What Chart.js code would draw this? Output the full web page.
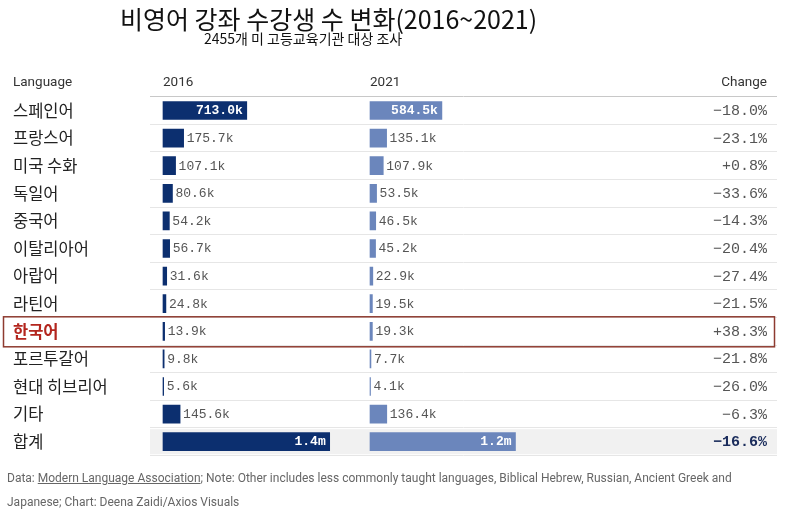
<!DOCTYPE html>
<html><head><meta charset="utf-8">
<script src="https://cdn.jsdelivr.net/npm/chart.js@4/dist/chart.umd.min.js"></script>
<style>
html,body{margin:0;padding:0;background:#fff;}
#wrap{position:relative;width:800px;height:511px;overflow:hidden;}
#c{position:absolute;left:0;top:0;}
.t{position:absolute;white-space:nowrap;}
#title{left:120px;top:2px;font:400 25px "Noto Sans CJK KR";line-height:32px;color:#111;}
#sub{left:204px;top:29px;font:400 14px "Noto Sans CJK KR";line-height:18px;color:#111;}
.hd{top:73px;font:400 13.5px Roboto;color:#333;line-height:16px;}
#foot{left:7px;top:466px;font:400 12px Roboto;color:#666;line-height:24px;}
#foot u{text-decoration:underline;}
</style>
</head><body>
<div id="wrap">
<canvas id="c" width="800" height="511"></canvas>
<div class="t" id="title">비영어 강좌 수강생 수 변화(2016~2021)</div>
<div class="t" id="sub">2455개 미 고등교육기관 대상 조사</div>
<div class="t hd" style="left:13px">Language</div>
<div class="t hd" style="left:163px">2016</div>
<div class="t hd" style="left:370px">2021</div>
<div class="t hd" style="right:33px">Change</div>
<div class="t" id="foot">Data: <u>Modern Language Association</u>; Note: Other includes less commonly taught languages, Biblical Hebrew, Russian, Ancient Greek and<br>Japanese; Chart: Deena Zaidi/Axios Visuals</div>
</div>
<script>
const languages = ['스페인어','프랑스어','미국 수화','독일어','중국어','이탈리아어','아랍어','라틴어','한국어','포르투갈어','현대 히브리어','기타','합계'];
const enroll2016 = [713.0,175.7,107.1,80.6,54.2,56.7,31.6,24.8,13.9,9.8,5.6,145.6,1418.6];
const enroll2021 = [584.5,135.1,107.9,53.5,46.5,45.2,22.9,19.5,19.3,7.7,4.1,136.4,1182.6];
const changePct = [-18.0,-23.1,0.8,-33.6,-14.3,-20.4,-27.4,-21.5,38.3,-21.8,-26.0,-6.3,-16.6];
const highlightIndex = 8;

function fmtVal(v){ return v >= 1000 ? (v/1000).toFixed(1)+'m' : v.toFixed(1)+'k'; }
function fmtPct(v){ return (v>0?'+':(v<0?'\u2212':'')) + Math.abs(v).toFixed(1) + '%'; }

const MONO = '"Liberation Mono", "DejaVu Sans Mono", monospace';
const KR = '"Noto Sans CJK KR", sans-serif';

const tablePlugin = {
  id:'table',
  beforeDraw(chart){
    const {ctx, chartArea:a, scales:{y}} = chart;
    const yc = y.getPixelForValue(languages.length-1);
    ctx.save();
    ctx.fillStyle = '#f1f1f1';
    ctx.fillRect(a.left, yc-12.5, a.right-a.left, 25);
    ctx.restore();
  },
  afterDatasetsDraw(chart){
    const ctx = chart.ctx;
    ctx.save();
    ctx.textBaseline = 'middle';
    [0,1].forEach(di=>{
      const meta = chart.getDatasetMeta(di);
      const vals = chart.data.datasets[di].data;
      meta.data.forEach((bar,i)=>{
        const txt = fmtVal(vals[i]);
        ctx.font = '13px ' + MONO;
        const tw = ctx.measureText(txt).width;
        const w = bar.x - bar.base;
        if (w > tw + 10) {
          ctx.font = 'bold 13px ' + MONO;
          ctx.fillStyle = '#ffffff';
          ctx.textAlign = 'right';
          ctx.fillText(txt, bar.x - 4, bar.y + 0.5);
        } else {
          ctx.fillStyle = '#555';
          ctx.textAlign = 'left';
          ctx.fillText(txt, bar.x + 3, bar.y + 0.5);
        }
      });
    });
    const xc = chart.scales.xc, y = chart.scales.y;
    ctx.textAlign = 'right';
    changePct.forEach((v,i)=>{
      const last = i === changePct.length-1;
      ctx.font = (last ? 'bold ' : '') + '15px ' + MONO;
      ctx.fillStyle = last ? '#1b2d5c' : '#555';
      ctx.fillText(fmtPct(v), xc.right - 10, y.getPixelForValue(i) + 0.5);
    });
    ctx.restore();
  },
  afterDraw(chart){
    const ctx = chart.ctx, y = chart.scales.y;
    const yc = y.getPixelForValue(highlightIndex);
    ctx.save();
    ctx.strokeStyle = '#8e3b30';
    ctx.lineWidth = 1.5;
    ctx.strokeRect(3.5, yc-14.5, 771, 30);
    ctx.restore();
  }
};

new Chart(document.getElementById('c'), {
  type:'bar',
  data:{labels:languages, datasets:[
    {label:'2016', data:enroll2016, xAxisID:'x16', backgroundColor:'#0c2f6f', grouped:false, barThickness:18},
    {label:'2021', data:enroll2021, xAxisID:'x21', backgroundColor:'#6b86bc', grouped:false, barThickness:18}
  ]},
  options:{
    indexAxis:'y', responsive:false, animation:false,
    layout:{padding:{left:13, right:23, top:96.7, bottom:55.5}},
    plugins:{legend:{display:false}, tooltip:{enabled:false}},
    scales:{
      y:{type:'category', position:'left', offset:true,
         grid:{offset:true, drawTicks:false, lineWidth:1,
           color:(c)=> c.index===0 ? '#c8c8c8' : (c.index>=languages.length ? 'rgba(0,0,0,0)' : '#e6e6e6')},
         border:{display:false},
         ticks:{crossAlign:'far', padding:0, autoSkip:false,
           color:(c)=> c.index===highlightIndex ? '#b3261e' : '#222',
           font:(c)=> c.index===highlightIndex ? {family:KR, size:16.5, weight:'bold'} : {family:KR, size:16.5}},
         afterFit:(s)=>{ s.width = 137; }},
      x16:{axis:'x', type:'linear', position:'bottom', stack:'cols', stackWeight:207, min:-110.6, max:1651, display:false},
      x21:{axis:'x', type:'linear', position:'bottom', stack:'cols', stackWeight:207, min:-105.7, max:1577, display:false},
      xc:{axis:'x', type:'linear', position:'bottom', stack:'cols', stackWeight:213, min:0, max:1, display:false}
    }
  },
  plugins:[tablePlugin]
});
</script>
</body></html>
